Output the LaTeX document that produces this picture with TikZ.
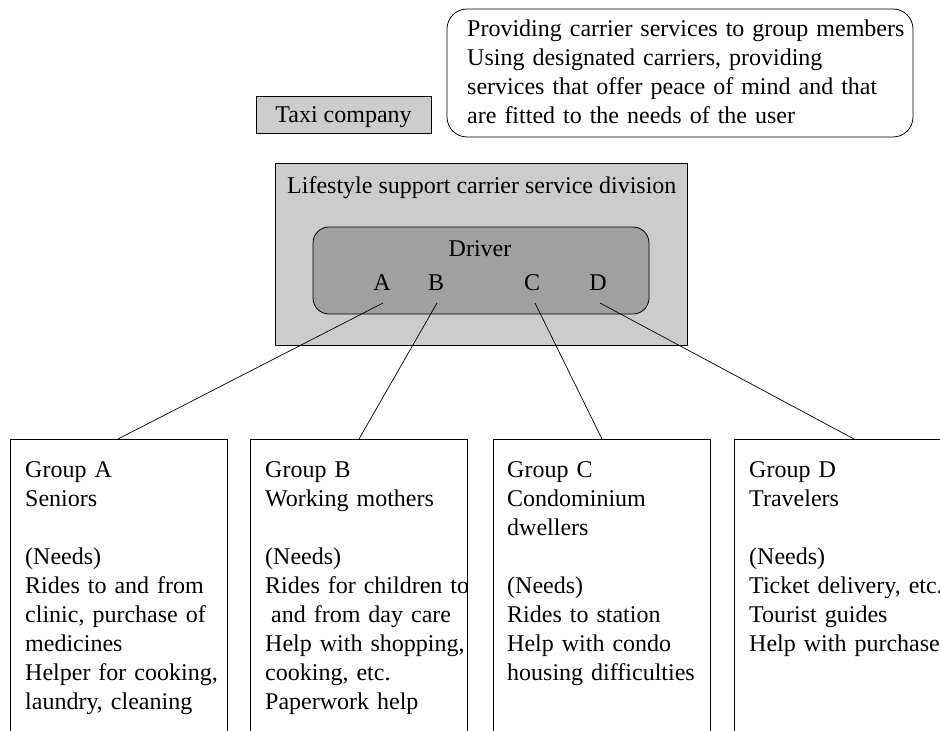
\documentclass[tikz,border=0pt]{standalone}
\usepackage{fontspec}
\setmainfont{Liberation Serif}
\usetikzlibrary{calc}
\definecolor{lightfill}{HTML}{CCCCCC}
\definecolor{darkfill}{HTML}{A0A0A0}
\begin{document}
\begin{tikzpicture}[x=1pt,y=-1pt,
  every node/.style={font=\fontsize{24}{29}\selectfont, inner sep=0pt},
  boxline/.style={draw=black, line width=0.8pt},
  txt/.style={anchor=base west, align=left, text width=#1},
  grpbox/.style={boxline, anchor=north west, minimum width=#1, minimum height=340pt},
  link/.style={draw=black, line width=0.7pt}]
\useasboundingbox (0,0) rectangle (940,731);
\clip (0,0) rectangle (940,731);
\fill[white] (0,0) rectangle (940,731);

% taxi company
\node[boxline, fill=lightfill, minimum width=175pt, minimum height=37pt] (taxi) at (343.5,114.5) {};
\node[anchor=base] (taxit) at (343.5,122) {Taxi company};

% note box
\node[boxline, rounded corners=20pt, minimum width=466pt, minimum height=128pt] (note) at (680,73) {};
\node[txt=450pt] (notet) at (467,36) {Providing carrier services to group members\\Using designated carriers, providing\\services that offer peace of mind and that\\are fitted to the needs of the user};

% division
\node[boxline, fill=lightfill, minimum width=412pt, minimum height=182pt] (div) at (481,254) {};
\node[anchor=base west] (divt) at (287,193) {Lifestyle support carrier service division};

% driver
\node[boxline, fill=darkfill, rounded corners=16pt, minimum width=336pt, minimum height=87pt] (drv) at (481,270.5) {};
\node[anchor=base] (drvt) at (480,256) {Driver};
\node[anchor=base] (A) at (382,290) {A};
\node[anchor=base] (B) at (436,290) {B};
\node[anchor=base] (C) at (532,290) {C};
\node[anchor=base] (D) at (598,290) {D};

% groups
\node[grpbox=217pt] (gA) at (10,439) {};
\node[grpbox=217pt] (gB) at (250,439) {};
\node[grpbox=217pt] (gC) at (493,439) {};
\node[grpbox=240pt] (gD) at (734,439) {};

\node[txt=215pt] (tA) at (25,477) {Group A\\Seniors\\[29pt](Needs)\\Rides to and from\\clinic, purchase of\\medicines\\Helper for cooking,\\laundry, cleaning};
\node[txt=215pt] (tB) at (265,477) {Group B\\Working mothers\\[29pt](Needs)\\Rides for children to\\\hspace*{6pt}and from day care\\Help with shopping,\\cooking, etc.\\Paperwork help};
\node[txt=215pt] (tC) at (507,477) {Group C\\Condominium\\dwellers\\[29pt](Needs)\\Rides to station\\Help with condo\\housing difficulties};
\node[txt=215pt] (tD) at (749,477) {Group D\\Travelers\\[29pt](Needs)\\Ticket delivery, etc.\\Tourist guides\\Help with purchases};

% connectors
\draw[link] ($(A.base)+(1,13)$) -- ($(gA.north west)+(108,0)$);
\draw[link] ($(B.base)+(1,13)$) -- ($(gB.north west)+(109,0)$);
\draw[link] ($(C.base)+(3,13)$) -- ($(gC.north west)+(109,0)$);
\draw[link] ($(D.base)+(2,13)$) -- ($(gD.north west)+(120,0)$);
\end{tikzpicture}
\end{document}
